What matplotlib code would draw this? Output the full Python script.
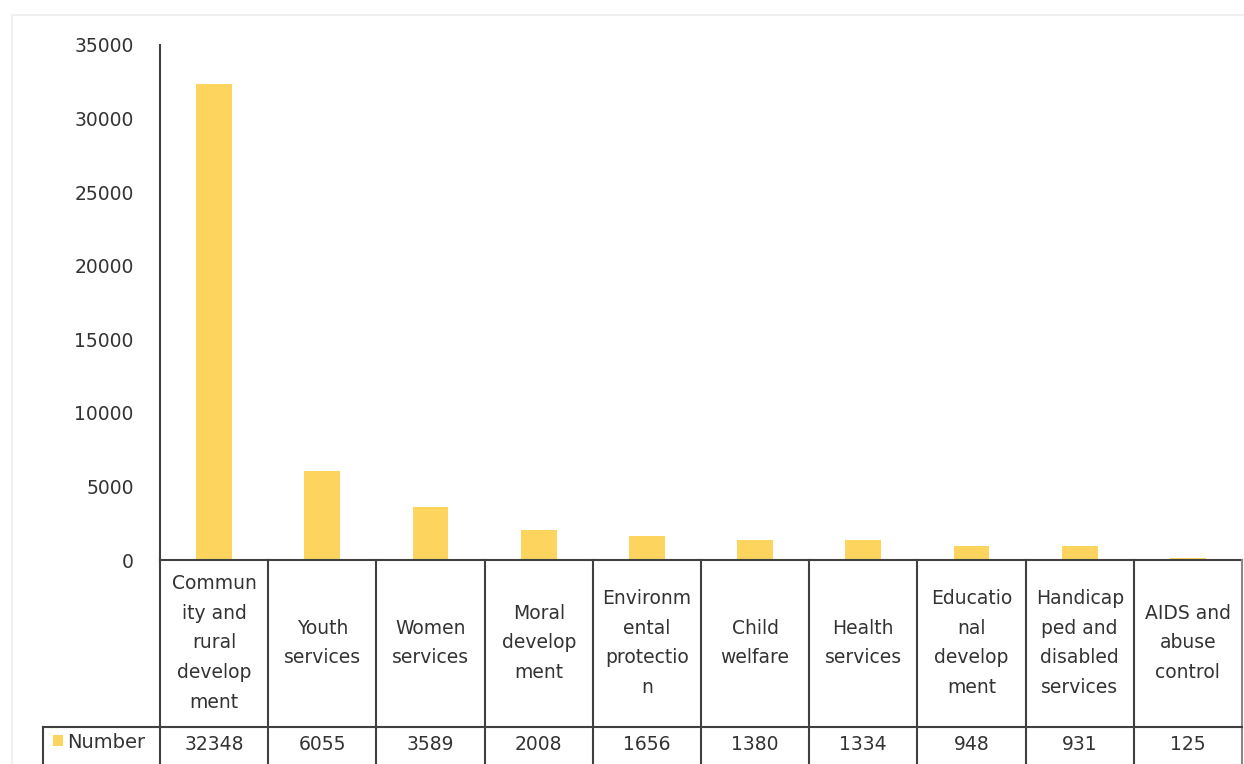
import matplotlib
matplotlib.use("Agg")
import matplotlib.pyplot as plt
from matplotlib.patches import Rectangle

categories = [
    "Commun\nity and\nrural\ndevelop\nment",
    "Youth\nservices",
    "Women\nservices",
    "Moral\ndevelop\nment",
    "Environm\nental\nprotectio\nn",
    "Child\nwelfare",
    "Health\nservices",
    "Educatio\nnal\ndevelop\nment",
    "Handicap\nped and\ndisabled\nservices",
    "AIDS and\nabuse\ncontrol",
]
values = [32348, 6055, 3589, 2008, 1656, 1380, 1334, 948, 931, 125]
series_name = "Number"
yticks = [0, 5000, 10000, 15000, 20000, 25000, 30000, 35000]

W, H = 1244, 764
bar_color = "#FDD55E"
line_color = "#404040"
text_color = "#333333"
font = "DejaVu Sans"
fs = 13.5

fig = plt.figure(figsize=(W / 100, H / 100), dpi=100)
fig.patch.set_facecolor("white")

# faint chart-area frame
fig.add_artist(Rectangle((12 / W, -0.01), (W - 12) / W + 0.01, (H - 15) / H + 0.01,
                         transform=fig.transFigure, fill=False,
                         edgecolor="#eeeeee", linewidth=1.2))

left_px, right_px, top_px, bottom_px = 160, 1242, 45, 560
ax = fig.add_axes([left_px / W, (H - bottom_px) / H,
                   (right_px - left_px) / W, (bottom_px - top_px) / H])
n = len(values)
x = list(range(n))
ax.bar(x, values, width=0.33, color=bar_color, edgecolor="none")
ax.set_xlim(-0.5, n - 0.5)
ax.set_ylim(0, 35000)
ax.set_yticks(yticks)
ax.set_yticklabels([str(v) for v in yticks], fontsize=fs, color=text_color,
                   family=font)
ax.tick_params(axis="y", length=0, pad=19)
ax.set_xticks([])
for s in ["top", "right"]:
    ax.spines[s].set_visible(False)
for s in ["left", "bottom"]:
    ax.spines[s].set_color(line_color)
    ax.spines[s].set_linewidth(1.5)
ax.patch.set_alpha(0)

# data table below the plot
tax = fig.add_axes([left_px / W, 0, (right_px - left_px) / W, (H - bottom_px) / H],
                   sharex=ax)
tax.set_ylim(0, H - bottom_px)
tax.axis("off")
row_line_y = H - 727
hdr_left = -0.5 - (left_px - 43) / ((right_px - left_px) / n)
for i in range(n + 1):
    xb = -0.5 + i
    col = line_color if i < n else "#888888"
    tax.plot([xb, xb], [0, H - bottom_px], color=col, lw=1.5, clip_on=False)
tax.plot([hdr_left, n - 0.5], [row_line_y, row_line_y], color=line_color, lw=1.5,
         clip_on=False)
tax.plot([hdr_left, hdr_left], [0, row_line_y], color=line_color, lw=1.5,
         clip_on=False)

for i, (c, v) in enumerate(zip(categories, values)):
    tax.text(i, H - 643, c, ha="center", va="center", fontsize=fs,
             color=text_color, family=font, linespacing=1.72, clip_on=False)
    tax.text(i, H - 745, str(v), ha="center", va="center", fontsize=fs,
             color=text_color, family=font, clip_on=False)

# legend key + series name
px_per_unit = (right_px - left_px) / n
kx = -0.5 - (left_px - 53) / px_per_unit
kw = 10 / px_per_unit
tax.add_patch(Rectangle((kx, H - 746), kw, 11, facecolor=bar_color,
                        edgecolor="none", clip_on=False))
tax.text(-0.5 - (left_px - 67) / px_per_unit, H - 742, series_name, ha="left",
         va="center", fontsize=14, color=text_color, family=font, clip_on=False)

fig.savefig("out.png", dpi=100)
